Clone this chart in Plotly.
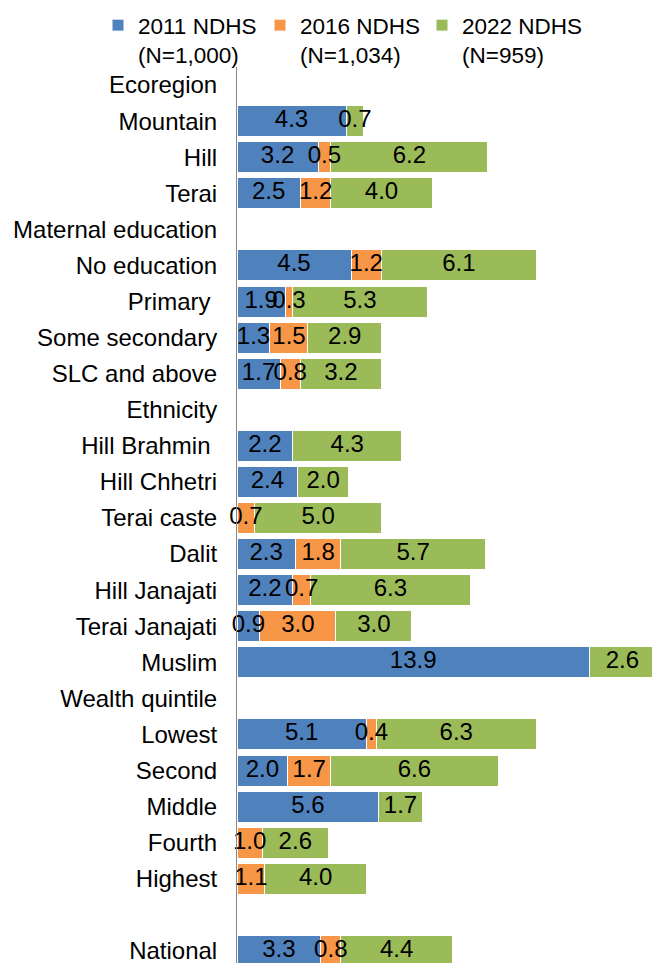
import plotly.graph_objects as go

# Row labels, top to bottom (section headers have no bars)
categories = [
    "Ecoregion", "Mountain", "Hill", "Terai",
    "Maternal education", "No education", "Primary ", "Some secondary", "SLC and above",
    "Ethnicity", "Hill Brahmin ", "Hill Chhetri", "Terai caste", "Dalit", "Hill Janajati",
    "Terai Janajati", "Muslim",
    "Wealth quintile", "Lowest", "Second", "Middle", "Fourth", "Highest",
    " ", "National",
]

# Prevalence (%) by survey round; None = no bar / no label
ndhs_2011 = [None, 4.3, 3.2, 2.5,
             None, 4.5, 1.9, 1.3, 1.7,
             None, 2.2, 2.4, None, 2.3, 2.2, 0.9, 13.9,
             None, 5.1, 2.0, 5.6, None, None,
             None, 3.3]
ndhs_2016 = [None, None, 0.5, 1.2,
             None, 1.2, 0.3, 1.5, 0.8,
             None, None, None, 0.7, 1.8, 0.7, 3.0, None,
             None, 0.4, 1.7, None, 1.0, 1.1,
             None, 0.8]
ndhs_2022 = [None, 0.7, 6.2, 4.0,
             None, 6.1, 5.3, 2.9, 3.2,
             None, 4.3, 2.0, 5.0, 5.7, 6.3, 3.0, 2.6,
             None, 6.3, 6.6, 1.7, 2.6, 4.0,
             None, 4.4]

series_names = ["2011 NDHS<br>(N=1,000)", "2016 NDHS<br>(N=1,034)", "2022 NDHS<br>(N=959)"]
series_values = [ndhs_2011, ndhs_2016, ndhs_2022]
series_colors = ["#4F81BD", "#F79646", "#9BBB59"]

FONT = "Liberation Sans, Arial, sans-serif"
FS = 24          # axis and value labels
FS_LEG = 22.5    # legend

W, H = 652, 963
ML, MT = 237, 67
PLOT_W, PLOT_H = W - ML, H - MT
ROW = 36.08  # px per category row

fig = go.Figure()

# Stacked bars
for name, vals, color in zip(series_names, series_values, series_colors):
    fig.add_trace(go.Bar(
        y=categories, x=vals, name=name, orientation="h",
        marker=dict(color=color, line=dict(color="white", width=1)),
        hoverinfo="x+name",
    ))

# Value labels centred on each segment
base = [0.0] * len(categories)
for vals in series_values:
    xs, ys, ts = [], [], []
    for i, v in enumerate(vals):
        if v is None:
            continue
        xs.append(base[i] + v / 2)
        ys.append(categories[i])
        ts.append(f"{v:.1f}")
        base[i] += v
    fig.add_trace(go.Scatter(
        x=xs, y=ys, text=ts, mode="text", showlegend=False,
        textposition="middle center", hoverinfo="skip",
        textfont=dict(family=FONT, size=FS, color="black"),
        cliponaxis=False,
    ))

fig.update_layout(
    width=W, height=H,
    margin=dict(l=ML, r=0, t=MT, b=0, autoexpand=False),
    barmode="stack", bargap=0.14,
    plot_bgcolor="white", paper_bgcolor="white",
    font=dict(family=FONT, size=FS, color="black"),
    showlegend=True,
    legend=dict(
        orientation="h", xref="paper", yref="paper",
        x=(98 - ML) / PLOT_W, xanchor="left",
        y=1 + (MT - 4) / PLOT_H, yanchor="top",
        font=dict(family=FONT, size=FS_LEG, color="black"),
        valign="top", traceorder="normal",
        entrywidth=117, entrywidthmode="pixels",
        bgcolor="rgba(0,0,0,0)",
    ),
    xaxis=dict(range=[0, 16.37], visible=False, fixedrange=True),
    yaxis=dict(
        type="category", categoryorder="array", categoryarray=categories,
        range=[-0.5 + PLOT_H / ROW, -0.5], autorange=False,
        showline=True, linecolor="#868686", linewidth=1,
        showgrid=False, zeroline=False, ticks="",
        ticklabelstandoff=14,
        tickfont=dict(family=FONT, size=FS, color="black"),
    ),
)

fig.write_html("out.html")
